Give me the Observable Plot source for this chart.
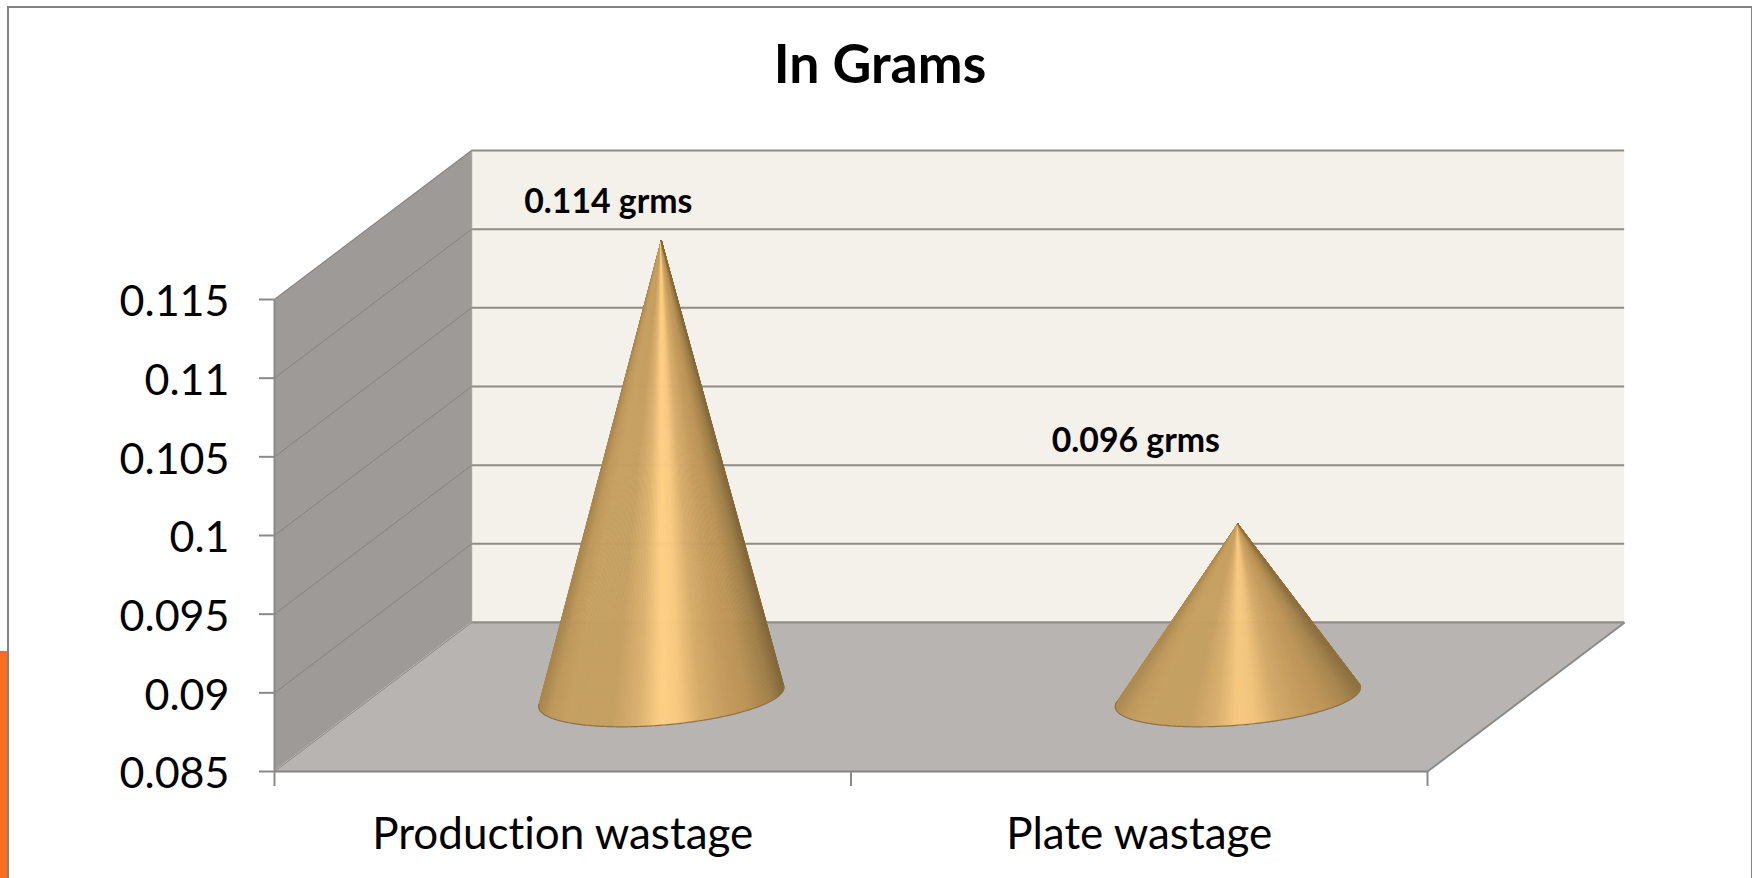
<!DOCTYPE html>
<html><head><meta charset="utf-8">
<script src="https://cdn.jsdelivr.net/npm/d3@7"></script>
<script src="https://cdn.jsdelivr.net/npm/@observablehq/plot@0.6"></script>
<style>
html,body{margin:0;padding:0;background:#fff;overflow:hidden}
#wrap{position:relative;width:1752px;height:878px}
#frame{position:absolute;left:7px;top:6px;width:1742px;height:880px;border:2px solid #828282;pointer-events:none}
#strip{position:absolute;left:0;top:651px;width:7px;height:227px;background:#f96f1f}
svg{display:block}
svg text{font-variant-ligatures:none;font-feature-settings:"liga" 0,"clig" 0}
</style></head><body>
<div id="wrap"><div id="frame"></div><div id="strip"></div></div>
<script>
const categories = ["Production wastage", "Plate wastage"];
const values = [0.114, 0.096];
const valueLabels = ["0.114 grms", "0.096 grms"];
const yTicks = [0.085, 0.09, 0.095, 0.1, 0.105, 0.11, 0.115];
const xTicks = [0, 1, 2];
const titleText = "In Grams";

// oblique projection of the chart's depth axis, in scale units
const DX = 0.342, DY = 0.00947;
const Y0 = 0.085, Y1 = 0.115;
const RU = 0.2013, RV = 0.2;
const font = "Lato, Carlito, Calibri, sans-serif";

const depth = [0, 1];
const shade = d3.scaleLinear()
  .domain([0, 0.05, 0.12, 0.3, 0.41, 0.5, 0.57, 0.66, 0.76, 0.86, 0.95, 1])
  .range(["#a8874f", "#bf985b", "#c6a061", "#c6a061", "#dcb270", "#fed085", "#f8ca80", "#d8ad6b", "#c79d5e", "#bb9356", "#a08049", "#846a3c"]);

function cone(value, i) {
  const c = i + 0.5, cx = c + 0.5 * DX, cy = Y0 + 0.5 * DY;
  const ax = c + 0.5 * DX, ay = value + 0.5 * DY;
  const beta = (ay - cy) / (RV * DY);
  const alpha = (ax - cx - beta * RV * DX) / RU;
  const phi = Math.atan2(beta, alpha), off = Math.acos(1 / Math.hypot(alpha, beta));
  const from = phi + off, to = phi + 2 * Math.PI - off;
  const arc = d3.range(0, 161).map(k => {
    const th = from + (to - from) * k / 160, z = 0.5 + RV * Math.sin(th);
    return {x: c + RU * Math.cos(th) + z * DX, y: Y0 + z * DY};
  });
  const x0 = d3.min(arc, d => d.x), x1 = d3.max(arc, d => d.x);
  const slices = [];
  arc.slice(1).forEach((p, k) => {
    const q = arc[k];
    const col = d3.interpolateRgb(shade(((p.x + q.x) / 2 - x0) / (x1 - x0)), "#c9a062")(i * 0.14);
    const id = i + "-" + k;
    for (const pt of [{x: ax, y: ay}, q, p, {x: ax, y: ay}]) slices.push({...pt, id, col});
  });
  return {arc, slices};
}
const cones = values.map(cone);

const chart = Plot.plot({
  width: 1752, height: 878,
  marginLeft: 274, marginRight: 325, marginTop: 299, marginBottom: 107,
  style: {background: "transparent", fontFamily: font, overflow: "visible"},
  x: {domain: [0, 2], axis: null},
  y: {domain: [Y0, Y1], axis: null},
  color: {type: "identity"},
  marks: [
    // back wall
    Plot.rect([0], {x1: DX, x2: 2 + DX, y1: Y0 + DY, y2: Y1 + DY, fill: "#f4f0ea"}),
    Plot.ruleY(yTicks, {y: d => d + DY, x1: DX, x2: 2 + DX, stroke: "#8f8c87", strokeWidth: 2}),
    // side wall
    Plot.areaY(depth, {x: z => z * DX, y1: z => Y0 + z * DY, y2: z => Y1 + z * DY, fill: "#9d9a97"}),
    Plot.link(yTicks, {x1: 0, y1: d => d, x2: DX, y2: d => d + DY, stroke: "#858280", strokeWidth: 1}),
    // floor
    Plot.areaX(depth, {y: z => Y0 + z * DY, x1: z => z * DX, x2: z => 2 + z * DX, fill: "#b8b4b2"}),
    Plot.link([0, 2], {x1: d => d, y1: Y0, x2: d => d + DX, y2: Y0 + DY, stroke: "#8b8986", strokeWidth: d => d ? 2 : 1}),
    Plot.ruleY([Y0 + DY], {x1: DX, x2: 2 + DX, stroke: "#8f8c87", strokeWidth: 2}),
    Plot.ruleY([Y0], {x1: 0, x2: 2, stroke: "#838383", strokeWidth: 2}),
    Plot.ruleX([0], {y1: Y0, y2: Y1, stroke: "#8a8a8a", strokeWidth: 2}),
    Plot.ruleX([DX], {y1: Y0 + DY, y2: Y1 + DY, stroke: "#9a9a97", strokeWidth: 1}),
    // cones
    ...cones.flatMap(({arc, slices}) => [
      Plot.line(slices, {x: "x", y: "y", z: "id", fill: "col", stroke: "col", strokeWidth: 0.7, curve: "linear"}),
      Plot.line(arc, {x: "x", y: "y", stroke: "#94733a", strokeWidth: 1.2})
    ]),
    // axes
    Plot.axisY(yTicks, {anchor: "left", tickSize: 15, stroke: "#8a8a8a", strokeWidth: 2, label: null, tickFormat: () => ""}),
    Plot.axisY(yTicks, {anchor: "left", tickSize: 0, tickPadding: 45, dy: 3, fontSize: 43, fill: "#000", label: null, tickFormat: d => String(d)}),
    Plot.axisX(xTicks, {anchor: "bottom", tickSize: 15, stroke: "#8a8a8a", strokeWidth: 2, label: null, tickFormat: () => ""}),
    Plot.axisX([0.5, 1.5], {anchor: "bottom", tickSize: 0, tickPadding: 46, fontSize: 44, fill: "#000", label: null, tickFormat: d => categories[d - 0.5]}),
    // value labels
    Plot.text([valueLabels[0]], {x: 0.5 + 0.5 * DX, y: values[0] + 0.5 * DY, dx: -53, dy: -39, fontSize: 33.8, fontWeight: 700, fill: "#000"}),
    Plot.text([valueLabels[1]], {x: 1.5 + 0.5 * DX, y: values[1] + 0.5 * DY, dx: -102, dy: -83, fontSize: 33.8, fontWeight: 700, fill: "#000"}),
    // title
    Plot.text([titleText], {frameAnchor: "top", dx: 29, dy: -234, lineAnchor: "middle", fontSize: 53.6, fontWeight: 700, fill: "#000"})
  ]
});
document.getElementById("wrap").prepend(chart);
</script>
</body></html>
